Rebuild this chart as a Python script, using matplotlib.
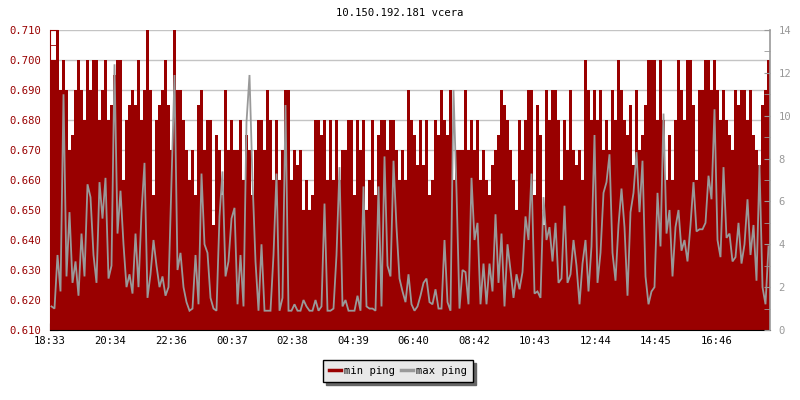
import numpy as np
import matplotlib
matplotlib.use("Agg")
import matplotlib.pyplot as plt
from matplotlib.lines import Line2D

title = "10.150.192.181 vcera"
tick_labels = ["18:33", "20:34", "22:36", "00:37", "02:38", "04:39",
               "06:40", "08:42", "10:43", "12:44", "14:45", "16:46"]
left_ticks = [0.610, 0.620, 0.630, 0.640, 0.650, 0.660, 0.670, 0.680, 0.690, 0.700, 0.710]
right_ticks = [0, 2, 4, 6, 8, 10, 12, 14]
series_names = ["min ping", "max ping"]

# one sample every 6 minutes over 24 h starting 18:33
step_minutes = 6
min_ping = [
    0.700, 0.700, 0.710, 0.690, 0.700, 0.690, 0.670, 0.675, 0.690, 0.700,
    0.690, 0.680, 0.700, 0.690, 0.700, 0.700, 0.680, 0.690, 0.700, 0.680,
    0.685, 0.695, 0.700, 0.700, 0.660, 0.680, 0.685, 0.690, 0.685, 0.700,
    0.680, 0.690, 0.710, 0.690, 0.655, 0.680, 0.685, 0.690, 0.700, 0.685,
    0.670, 0.710, 0.690, 0.690, 0.680, 0.670, 0.660, 0.670, 0.655, 0.685,
    0.690, 0.670, 0.680, 0.680, 0.645, 0.675, 0.670, 0.655, 0.690, 0.670,
    0.680, 0.670, 0.670, 0.680, 0.660, 0.675, 0.670, 0.655, 0.670, 0.680,
    0.680, 0.670, 0.690, 0.680, 0.660, 0.680, 0.660, 0.670, 0.690, 0.690,
    0.660, 0.670, 0.665, 0.670, 0.650, 0.660, 0.650, 0.655, 0.680, 0.680,
    0.675, 0.680, 0.660, 0.680, 0.660, 0.680, 0.660, 0.670, 0.670, 0.680,
    0.680, 0.655, 0.680, 0.670, 0.680, 0.650, 0.660, 0.680, 0.655, 0.675,
    0.680, 0.680, 0.670, 0.680, 0.680, 0.670, 0.660, 0.670, 0.660, 0.690,
    0.680, 0.675, 0.665, 0.680, 0.665, 0.680, 0.655, 0.660, 0.680, 0.675,
    0.690, 0.680, 0.675, 0.690, 0.660, 0.670, 0.670, 0.670, 0.690, 0.670,
    0.680, 0.670, 0.680, 0.660, 0.670, 0.660, 0.655, 0.665, 0.670, 0.675,
    0.690, 0.685, 0.680, 0.670, 0.660, 0.650, 0.680, 0.670, 0.680, 0.690,
    0.690, 0.655, 0.685, 0.675, 0.645, 0.690, 0.680, 0.690, 0.690, 0.680,
    0.660, 0.680, 0.670, 0.690, 0.670, 0.665, 0.670, 0.660, 0.700, 0.690,
    0.680, 0.690, 0.680, 0.690, 0.670, 0.680, 0.670, 0.690, 0.680, 0.700,
    0.690, 0.680, 0.675, 0.685, 0.665, 0.690, 0.670, 0.675, 0.685, 0.700,
    0.700, 0.700, 0.680, 0.700, 0.680, 0.660, 0.675, 0.660, 0.680, 0.700,
    0.690, 0.680, 0.700, 0.700, 0.685, 0.660, 0.690, 0.690, 0.700, 0.700,
    0.690, 0.700, 0.690, 0.680, 0.690, 0.680, 0.675, 0.670, 0.690, 0.685,
    0.690, 0.690, 0.680, 0.690, 0.675, 0.670, 0.665, 0.685, 0.690, 0.700,
]
max_ping = [
    1.1, 1.0, 3.5, 1.8, 11.0, 2.5, 5.5, 2.2, 3.2, 1.6,
    4.5, 2.5, 6.8, 6.2, 3.5, 2.2, 6.9, 5.2, 7.1, 2.4,
    3.0, 12.4, 4.5, 6.5, 4.0, 2.0, 2.6, 1.7, 4.5, 2.0,
    5.5, 7.8, 1.5, 2.6, 4.2, 3.0, 2.0, 2.5, 1.6, 2.0,
    6.9, 11.9, 2.8, 3.6, 2.0, 1.3, 0.9, 1.0, 3.5, 1.2,
    7.3, 4.0, 3.6, 1.5, 1.0, 0.9, 5.3, 7.4, 2.5, 3.2,
    5.2, 5.7, 1.2, 3.5, 1.1, 9.7, 11.9, 7.0, 3.2, 0.9,
    4.0, 0.9, 0.9, 0.9, 3.5, 7.3, 0.9, 1.5, 10.5, 0.9,
    0.9, 1.2, 0.9, 0.9, 1.4, 1.1, 0.9, 0.9, 1.4, 0.9,
    1.1, 5.9, 0.9, 0.9, 1.0, 3.5, 7.6, 1.1, 1.4, 0.9,
    0.9, 0.9, 1.6, 0.9, 6.7, 1.1, 1.0, 1.0, 0.9, 6.7,
    1.1, 8.1, 3.0, 2.5, 7.9, 4.8, 2.4, 1.8, 1.3, 2.6,
    1.2, 0.9, 1.1, 1.6, 2.2, 2.4, 1.3, 1.2, 1.9, 1.0,
    1.0, 4.2, 1.3, 0.9, 11.2, 6.5, 1.0, 2.8, 2.7, 1.2,
    7.1, 4.2, 5.0, 1.2, 3.1, 1.2, 3.1, 1.8, 5.4, 2.2,
    4.5, 1.1, 4.0, 2.8, 1.5, 2.6, 1.9, 2.7, 5.3, 4.2,
    7.3, 1.7, 1.8, 1.5, 6.2, 4.2, 4.8, 3.2, 5.0, 2.2,
    2.4, 5.8, 2.2, 2.6, 4.2, 3.0, 1.2, 3.1, 4.2, 1.8,
    3.9, 9.1, 2.2, 3.6, 6.4, 6.9, 8.2, 3.6, 2.3, 4.9,
    6.6, 4.8, 1.6, 5.5, 6.4, 8.3, 5.5, 7.9, 2.5, 1.2,
    1.8, 2.0, 6.4, 3.9, 10.1, 4.5, 5.6, 2.5, 4.8, 5.6,
    3.7, 4.2, 3.2, 4.9, 6.9, 4.6, 4.7, 4.7, 5.0, 7.2,
    6.1, 10.3, 4.2, 3.4, 7.6, 4.3, 4.5, 3.2, 3.4, 5.0,
    3.1, 4.0, 6.1, 3.5, 4.9, 2.3, 7.7, 2.0, 1.2, 3.9,
]

RED = "#990000"
GRAY = "#999999"
GRID = "#c4c4c4"
FONT = "DejaVu Sans Mono"
FS = 7.6

plt.rcParams["font.family"] = [FONT, "DejaVu Sans"]

def to_minutes(lbl, start):
    h, m = map(int, lbl.split(":"))
    t = h * 60 + m - start
    return t % 1440

start = int(tick_labels[0][:2]) * 60 + int(tick_labels[0][3:])
tick_pos = [to_minutes(l, start) for l in tick_labels]

edges = np.arange(len(min_ping) + 1) * step_minutes
centers = (edges[:-1] + edges[1:]) / 2

fig = plt.figure(figsize=(8, 4), dpi=100)
ax = fig.add_axes([50 / 800, 70 / 400, 720 / 800, 300 / 400])
ax.set_xlim(0, 1440)
ax.set_ylim(left_ticks[0], left_ticks[-1])
ax.set_axisbelow(True)
ax.yaxis.grid(True, color=GRID, lw=1)
ax.stairs(min_ping, edges, baseline=left_ticks[0], fill=True, color=RED, lw=0, zorder=2)

ax2 = ax.twinx()
ax2.set_ylim(right_ticks[0], right_ticks[-1])
ax2.plot(centers, max_ping, color=GRAY, lw=1.3, zorder=3, solid_joinstyle="miter")

# styling
ax.set_yticks(left_ticks)
ax.set_yticklabels([f"{v:.3f}" for v in left_ticks], color=RED, fontsize=FS, family=FONT)
ax.set_yticks(np.arange(0.615, 0.710, 0.01), minor=True)
ax.tick_params(axis="y", which="major", direction="in", length=6, color=RED, pad=6)
ax.tick_params(axis="y", which="minor", direction="in", length=4, color=RED)
ax.set_xticks(tick_pos)
ax.set_xticklabels(tick_labels, fontsize=FS, family=FONT)
ax.tick_params(axis="x", direction="in", length=5, color="black", pad=4)
ax.spines["left"].set_color(RED)
ax.spines["bottom"].set_color("black")
ax.spines["top"].set_visible(False)
ax.spines["right"].set_visible(False)

ax2.set_yticks(right_ticks)
ax2.set_yticklabels([str(v) for v in right_ticks], color=GRAY, fontsize=FS, family=FONT)
ax2.set_yticks(np.arange(1, 14, 2), minor=True)
ax2.tick_params(axis="y", which="major", direction="in", length=4, color=GRAY, pad=6)
ax2.tick_params(axis="y", which="minor", direction="in", length=4, color=GRAY)
ax2.spines["right"].set_color(GRAY)
ax2.spines["right"].set_linewidth(1.2)
for s in ("left", "top", "bottom"):
    ax2.spines[s].set_visible(False)

fig.text(0.5, 1 - 13 / 400, title, ha="center", va="center", fontsize=FS, family=FONT)

handles = [Line2D([], [], color=RED, lw=2.5), Line2D([], [], color=GRAY, lw=2.5)]
leg = fig.legend(handles, series_names, loc="center", bbox_to_anchor=(398 / 800, 1 - 371 / 400),
                 ncol=2, frameon=True, fancybox=False, shadow={"color": "#666666", "alpha": 1},
                 facecolor="#e8e8e8", edgecolor="black", framealpha=1,
                 prop={"family": FONT, "size": FS}, handlelength=1.1, handletextpad=0.3,
                 columnspacing=0.6, borderpad=0.55, borderaxespad=0)
leg.get_frame().set_linewidth(1.0)

fig.savefig("out.png", dpi=100)
